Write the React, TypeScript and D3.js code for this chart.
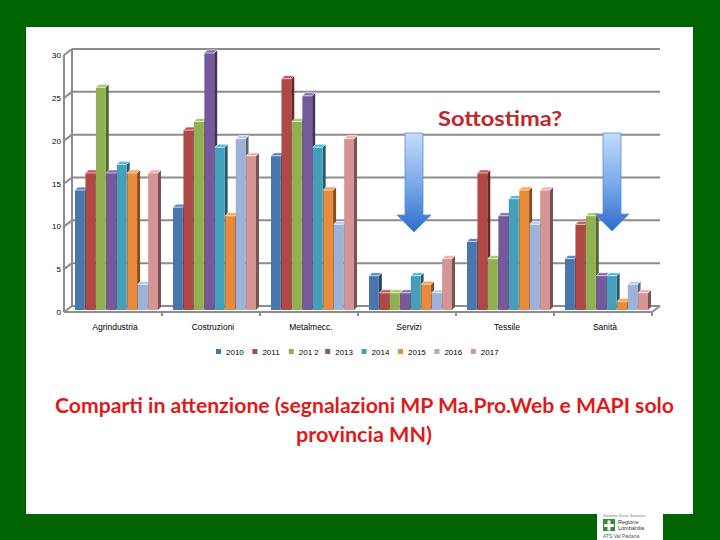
import React from 'react';
import * as d3 from 'd3';

const categories = ['Agrindustria', 'Costruzioni', 'Metalmecc.', 'Servizi', 'Tessile', 'Sanità'];
const years = ['2010', '2011', '2012', '2013', '2014', '2015', '2016', '2017'];
const legendLabels = ['2010', '2011', '201 2', '2013', '2014', '2015', '2016', '2017'];
const colors = ['#4a76ae', '#b04846', '#90b052', '#76599b', '#44a0ba', '#e98a3c', '#9db2d8', '#d59594'];

// one array per sector, one value per year 2010..2017
const agrindustria = [14, 16, 26, 16, 17, 16, 3, 16];
const costruzioni = [12, 21, 22, 30, 19, 11, 20, 18];
const metalmecc = [18, 27, 22, 25, 19, 14, 10, 20];
const servizi = [4, 2, 2, 2, 4, 3, 2, 6];
const tessile = [8, 16, 6, 11, 13, 14, 10, 14];
const sanita = [6, 10, 11, 4, 4, 1, 3, 2];
const yTicks = [0, 5, 10, 15, 20, 25, 30];

const rows = [agrindustria, costruzioni, metalmecc, servizi, tessile, sanita];

const FONT = 'Liberation Sans, Arial, sans-serif';
const TITLE_FONT = 'Lato, "Open Sans", sans-serif';

export default function App() {
  const x0 = d3.scaleBand().domain(categories).range([64, 652]);
  const x1 = d3.scaleBand().domain(years).range([0, 83]).paddingInner(0.06);
  const y = d3.scaleLinear().domain([0, 30]).range([312, 55]);
  const bw = x1.bandwidth();
  const depth = 3;
  const back = { dx: 8, dy: -6 };
  const [xl, xr] = x0.range();

  return (
    <svg width={720} height={540} style={{ position: 'absolute', left: 0, top: 0, display: 'block' }}>
      <defs>
        <linearGradient id="arrowFill" x1="0" y1="0" x2="0" y2="1">
          <stop offset="0" stopColor="#c4dcfa" />
          <stop offset="0.55" stopColor="#74a6e8" />
          <stop offset="1" stopColor="#2f6ccc" />
        </linearGradient>
      </defs>
      <rect x={0} y={0} width={720} height={540} fill="#006400" />
      <rect x={26} y={27} width={667} height={487} fill="#ffffff" />

      {/* walls and gridlines */}
      <g stroke="#8c8c8c" strokeWidth={2} fill="none">
        {yTicks.map((t) => (
          <g key={t}>
            <line x1={xl + back.dx} x2={xr + back.dx} y1={y(t) + back.dy} y2={y(t) + back.dy} />
            <line x1={xl} x2={xl + back.dx} y1={y(t)} y2={y(t) + back.dy} />
          </g>
        ))}
        <line x1={xl} x2={xl} y1={y(30)} y2={y(0)} />
        <line x1={xl + back.dx} x2={xl + back.dx} y1={y(30) + back.dy} y2={y(0) + back.dy} />
        <line x1={xl} x2={xr} y1={y(0)} y2={y(0)} />
        <line x1={xr} x2={xr + back.dx} y1={y(0)} y2={y(0) + back.dy} />
        {categories.map((c) => (
          <line key={c} x1={(x0(c) ?? 0) + x0.bandwidth()} x2={(x0(c) ?? 0) + x0.bandwidth()} y1={y(0)} y2={y(0) + 4} />
        ))}
      </g>

      {yTicks.map((t) => (
        <text key={t} x={61} y={y(t) + 3} fontSize={8} fontFamily={FONT} textAnchor="end" fill="#000">
          {t}
        </text>
      ))}

      {/* bars */}
      {rows.map((vals, ci) => {
        const gx = (x0(categories[ci]) ?? 0) + 11;
        return (
          <g key={categories[ci]}>
            {vals.map((v, si) => {
              const bx = gx + (x1(years[si]) ?? 0);
              const by = y(v) - 2;
              const b0 = y(0) - 2;
              const c = colors[si];
              const side = d3.color(c)!.darker(1.6).formatHex();
              const top = d3.color(c)!.brighter(0.4).formatHex();
              return (
                <g key={si}>
                  <polygon
                    points={`${bx + bw},${by} ${bx + bw + depth},${by - depth} ${bx + bw + depth},${b0 - depth} ${bx + bw},${b0}`}
                    fill={side}
                  />
                  <rect x={bx} y={by} width={bw} height={b0 - by} fill={c} />
                  <polygon
                    points={`${bx},${by} ${bx + depth},${by - depth} ${bx + bw + depth},${by - depth} ${bx + bw},${by}`}
                    fill={top}
                    stroke="#ffffff"
                    strokeWidth={0.6}
                  />
                </g>
              );
            })}
          </g>
        );
      })}

      {categories.map((c) => (
        <text
          key={c}
          x={(x0(c) ?? 0) + x0.bandwidth() / 2 + 2}
          y={330}
          fontSize={8.5}
          fontFamily={FONT}
          textAnchor="middle"
          fill="#000"
        >
          {c}
        </text>
      ))}

      {/* legend */}
      {legendLabels.map((l, i) => (
        <g key={l} transform={`translate(${216 + i * 36.4},352)`}>
          <rect x={0} y={-3} width={5} height={5} fill={colors[i]} />
          <text x={10} y={3} fontSize={8} fontFamily={FONT} fill="#000">
            {l}
          </text>
        </g>
      ))}

      {/* arrows */}
      {[
        { cx: 414, top: 133, tip: 232 },
        { cx: 612, top: 133, tip: 231 },
      ].map((a, i) => (
        <polygon
          key={i}
          points={`${a.cx - 9},${a.top} ${a.cx + 9},${a.top} ${a.cx + 9},${a.tip - 17} ${a.cx + 17},${a.tip - 17} ${a.cx},${a.tip} ${a.cx - 17},${a.tip - 17} ${a.cx - 9},${a.tip - 17}`}
          fill="url(#arrowFill)"
          stroke="#5b8fd6"
          strokeWidth={0.8}
        />
      ))}

      <text
        x={500}
        y={126}
        fontSize={21}
        fontWeight="bold"
        fontFamily={TITLE_FONT}
        textAnchor="middle"
        fill="#c0262c"
        textLength={124}
        lengthAdjust="spacingAndGlyphs"
      >
        Sottostima?
      </text>

      <text
        x={364.5}
        y={413}
        fontSize={20}
        fontWeight="bold"
        fontFamily={TITLE_FONT}
        textAnchor="middle"
        fill="#e01a1a"
        textLength={619}
        lengthAdjust="spacingAndGlyphs"
      >
        Comparti in attenzione (segnalazioni MP Ma.Pro.Web e MAPI solo
      </text>
      <text
        x={364}
        y={442}
        fontSize={20}
        fontWeight="bold"
        fontFamily={TITLE_FONT}
        textAnchor="middle"
        fill="#e01a1a"
        textLength={136}
        lengthAdjust="spacingAndGlyphs"
      >
        provincia MN)
      </text>

      {/* logo */}
      <g>
        <rect x={597} y={512} width={66} height={28} fill="#ffffff" />
        <text x={603} y={517} fontSize={4} fontFamily={FONT} fill="#7a7a7a">
          Sistema Socio Sanitario
        </text>
        <rect x={603} y={519} width={12} height={12} fill="#2e8b3a" />
        <path d="M607.5,520.5h3v3.5h3.5v3h-3.5v3.5h-3v-3.5h-3.5v-3h3.5z" fill="#ffffff" />
        <text x={618} y={524} fontSize={5.5} fontFamily={FONT} fill="#333">
          Regione
        </text>
        <text x={618} y={530} fontSize={5.5} fontFamily={FONT} fill="#333">
          Lombardia
        </text>
        <text x={603} y={538} fontSize={5} fontFamily={FONT} fill="#555">
          ATS Val Padana
        </text>
      </g>
    </svg>
  );
}
